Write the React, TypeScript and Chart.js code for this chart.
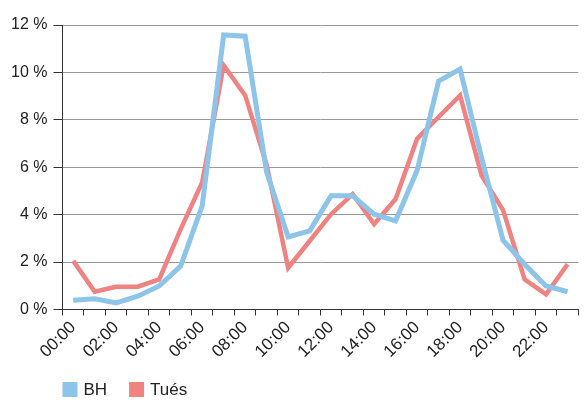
import React, { useEffect, useRef } from "react";
import { Chart, registerables } from "chart.js";

Chart.register(...registerables);

const hours = [
  "00:00", "01:00", "02:00", "03:00", "04:00", "05:00", "06:00", "07:00",
  "08:00", "09:00", "10:00", "11:00", "12:00", "13:00", "14:00", "15:00",
  "16:00", "17:00", "18:00", "19:00", "20:00", "21:00", "22:00", "23:00",
];

const bhValues = [
  0.39, 0.45, 0.28, 0.56, 0.99, 1.83, 4.37, 11.58, 11.53, 5.79, 3.06, 3.32,
  4.8, 4.8, 4.02, 3.74, 5.86, 9.63, 10.14, 6.4, 2.92, 1.91, 0.99, 0.75,
];

const tuesValues = [
  2.05, 0.75, 0.96, 0.96, 1.27, 3.39, 5.36, 10.3, 9.03, 6.1, 1.76, 2.89,
  4.02, 4.87, 3.6, 4.66, 7.2, 8.12, 9.03, 5.65, 4.19, 1.27, 0.64, 1.91,
];

const seriesNames = ["BH", "Tués"];
const FONT = "'Liberation Sans', Arial, Helvetica, sans-serif";
const BLUE = "#8dc4ea";
const RED = "#f08282";

const legendPlugin = {
  id: "customLegend",
  afterDraw(chart: any) {
    const ctx = chart.ctx;
    const area = chart.chartArea;
    let x = area.left;
    const y = chart.height - 26;
    ctx.save();
    ctx.font = `17px ${FONT}`;
    ctx.textBaseline = "middle";
    ctx.textAlign = "left";
    chart.data.datasets.forEach((ds: any) => {
      ctx.fillStyle = ds.borderColor;
      ctx.fillRect(x, y, 15, 15);
      ctx.fillStyle = "#222";
      ctx.fillText(ds.label, x + 21, y + 8);
      x += 21 + ctx.measureText(ds.label).width + 22;
    });
    ctx.restore();
  },
};

export default function App() {
  const ref = useRef<HTMLCanvasElement | null>(null);
  useEffect(() => {
    if (!ref.current) return;
    const chart = new Chart(ref.current, {
      type: "line",
      data: {
        labels: hours,
        datasets: [
          {
            label: seriesNames[0],
            data: bhValues,
            borderColor: BLUE,
            backgroundColor: BLUE,
            borderWidth: 5,
            pointRadius: 0,
            tension: 0,
            borderJoinStyle: "miter",
          },
          {
            label: seriesNames[1],
            data: tuesValues,
            borderColor: RED,
            backgroundColor: RED,
            borderWidth: 4.5,
            pointRadius: 0,
            tension: 0,
            borderJoinStyle: "miter",
          },
        ],
      },
      options: {
        animation: false,
        responsive: true,
        maintainAspectRatio: false,
        layout: { padding: { top: 25, right: 1, bottom: 44, left: 5 } },
        plugins: {
          legend: { display: false },
          tooltip: { enabled: false },
        },
        scales: {
          x: {
            type: "category",
            offset: true,
            grid: {
              offset: true,
              drawOnChartArea: false,
              drawTicks: true,
              tickLength: 6,
              tickColor: "#333",
            },
            border: { color: "#333", width: 1 },
            ticks: {
              autoSkip: false,
              maxRotation: 45,
              minRotation: 45,
              padding: 2,
              color: "#222",
              font: { family: FONT, size: 17 },
              callback: (_v: any, i: number) => (i % 2 === 0 ? hours[i] : ""),
            },
          },
          y: {
            min: 0,
            max: 12,
            grid: {
              color: "#9a9a9a",
              lineWidth: 1,
              tickLength: 9,
              tickColor: "#333",
            },
            border: { color: "#333", width: 1 },
            ticks: {
              stepSize: 2,
              padding: 6,
              color: "#222",
              font: { family: FONT, size: 16 },
              callback: (v: any) => `${v} %`,
            },
          },
        },
      },
      plugins: [legendPlugin],
    });
    return () => chart.destroy();
  }, []);
  return (
    <div style={{ position: "fixed", left: 0, top: 0, width: 584, height: 408, background: "#fff" }}>
      <canvas ref={ref} />
    </div>
  );
}
